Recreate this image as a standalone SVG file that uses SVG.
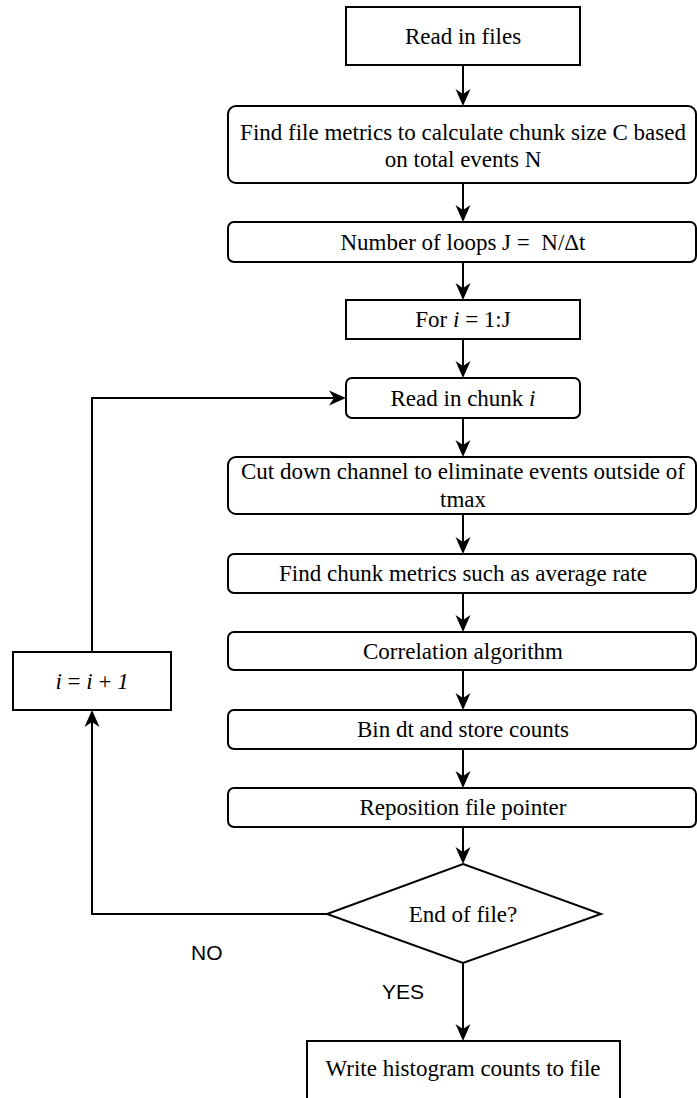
<svg xmlns="http://www.w3.org/2000/svg" width="697" height="1098" viewBox="0 0 697 1098">
  <style>
    .box { fill: #ffffff; stroke: #000000; stroke-width: 2; }
    .t { font-family: "Liberation Serif", "Times New Roman", serif; font-size: 23px; fill: #000000; text-anchor: middle; }
    .lbl { font-family: "Liberation Sans", Arial, sans-serif; font-size: 21px; fill: #000000; }
    .edge { fill: none; stroke: #000000; stroke-width: 2; marker-end: url(#arr); }
    .it { font-style: italic; }
  </style>
  <defs>
    <marker id="arr" markerUnits="userSpaceOnUse" orient="auto" refX="0" refY="0" markerWidth="20" markerHeight="20" overflow="visible">
      <path d="M10,0 L-7,-7.5 L-2,0 L-7,7.5 Z" fill="#000000" stroke="none"/>
    </marker>
  </defs>

  <g id="connectors">
    <path class="edge" d="M463,65 V96"/>
    <path class="edge" d="M463,183 V212"/>
    <path class="edge" d="M463,262 V290"/>
    <path class="edge" d="M463,339 V368"/>
    <path class="edge" d="M463,418 V447"/>
    <path class="edge" d="M463,514 V544"/>
    <path class="edge" d="M463,593 V622"/>
    <path class="edge" d="M463,670 V700"/>
    <path class="edge" d="M463,749 V778"/>
    <path class="edge" d="M463,827 V854"/>
    <path class="edge" d="M463,963 V1031"/>
    <path class="edge" d="M327,914 H92 V720"/>
    <path class="edge" d="M92,652 V398 H336"/>
  </g>

  <g id="n-read-files">
    <rect class="box" x="346" y="7" width="234" height="58"/>
    <text class="t" x="463" y="43.5">Read in files</text>
  </g>
  <g id="n-file-metrics">
    <rect class="box" x="228" y="106" width="468" height="77" rx="8" ry="8"/>
    <text class="t" x="463" y="140">Find file metrics to calculate chunk size C based</text>
    <text class="t" x="463" y="167">on total events N</text>
  </g>
  <g id="n-loops">
    <rect class="box" x="228" y="222" width="468" height="40" rx="6" ry="6"/>
    <text class="t" x="463" y="249.5" xml:space="preserve">Number of loops J =  N/Δt</text>
  </g>
  <g id="n-for">
    <rect class="box" x="346" y="300" width="234" height="39"/>
    <text class="t" x="463" y="327">For <tspan class="it">i</tspan> = 1:J</text>
  </g>
  <g id="n-read-chunk">
    <rect class="box" x="346" y="378" width="234" height="40" rx="6" ry="6"/>
    <text class="t" x="463" y="405.5">Read in chunk <tspan class="it">i</tspan></text>
  </g>
  <g id="n-cut-down">
    <rect class="box" x="228" y="457" width="468" height="57" rx="8" ry="8"/>
    <text class="t" x="463" y="478.5">Cut down channel to eliminate events outside of</text>
    <text class="t" x="463" y="506.5">tmax</text>
  </g>
  <g id="n-chunk-metrics">
    <rect class="box" x="228" y="554" width="468" height="39" rx="6" ry="6"/>
    <text class="t" x="463" y="581">Find chunk metrics such as average rate</text>
  </g>
  <g id="n-correlation">
    <rect class="box" x="228" y="632" width="468" height="38" rx="6" ry="6"/>
    <text class="t" x="463" y="658.5">Correlation algorithm</text>
  </g>
  <g id="n-bin">
    <rect class="box" x="228" y="710" width="468" height="39" rx="6" ry="6"/>
    <text class="t" x="463" y="737">Bin dt and store counts</text>
  </g>
  <g id="n-reposition">
    <rect class="box" x="228" y="788" width="468" height="39" rx="6" ry="6"/>
    <text class="t" x="463" y="815">Reposition file pointer</text>
  </g>
  <g id="n-eof">
    <polygon class="box" points="463,864 601,914 463,963 327,914"/>
    <text class="t" x="463" y="921.5">End of file?</text>
  </g>
  <g id="n-increment">
    <rect class="box" x="13" y="652" width="158" height="58"/>
    <text class="t" x="92" y="688.5"><tspan class="it">i</tspan> = <tspan class="it">i</tspan> + <tspan class="it">1</tspan></text>
  </g>
  <g id="n-write">
    <rect class="box" x="307" y="1041" width="313" height="70"/>
    <text class="t" x="463" y="1076">Write histogram counts to file</text>
  </g>

  <g id="labels">
    <text class="lbl" x="191" y="960">NO</text>
    <text class="lbl" x="382" y="999">YES</text>
  </g>
</svg>
